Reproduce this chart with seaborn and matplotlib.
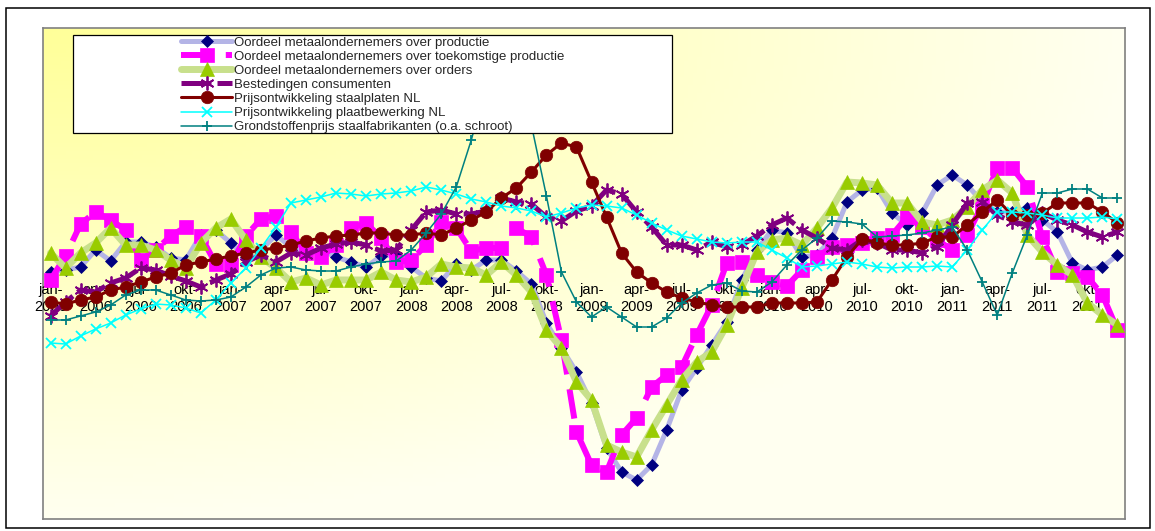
import numpy as np
import pandas as pd
import matplotlib
matplotlib.use("Agg")
import matplotlib.pyplot as plt
from matplotlib.patches import Rectangle
import seaborn as sns

sns.set_theme(style="white")
plt.rcParams['font.family'] = ['Liberation Sans', 'DejaVu Sans']

# ---------------- data (72 months, jan-2006 .. dec-2011) ----------------
tick_labels = [
    "jan-\n2006", "apr-\n2006", "jul-\n2006", "okt-\n2006",
    "jan-\n2007", "apr-\n2007", "jul-\n2007", "okt-\n2007",
    "jan-\n2008", "apr-\n2008", "jul-\n2008", "okt-\n2008",
    "jan-\n2009", "apr-\n2009", "jul-\n2009", "okt-\n2009",
    "jan-\n2010", "apr-\n2010", "jul-\n2010", "okt-\n2010",
    "jan-\n2011", "apr-\n2011", "jul-\n2011", "okt-\n2011",
]

labels = [
    "Oordeel metaalondernemers over productie",
    "Oordeel metaalondernemers over toekomstige productie",
    "Oordeel metaalondernemers over orders",
    "Bestedingen consumenten",
    "Prijsontwikkeling staalplaten NL",
    "Prijsontwikkeling plaatbewerking NL",
    "Grondstoffenprijs staalfabrikanten (o.a. schroot)",
]

productie = [11, 13, 16, 33, 22, 41, 41, 36, 25, 23, 48, 53,
             40, 26, 33, 48, 36, 28, 33, 26, 21, 16, 27, 28,
             16, 5, 2, 19, 13, 23, 23, 12, -1, -40, -65, -89,
             -120, -165, -189, -197, -182, -147, -107, -85, -62, -39, 3, 33,
             53, 50, 26, 28, 45, 81, 93, 95, 70, 58, 70, 98,
             108, 98, 81, 71, 71, 75, 63, 51, 20, 13, 16, 28]

toekomstige_productie = [3, 27, 59, 71, 63, 53, 23, 33, 47, 56, 47, 19,
                         18, 47, 64, 67, 51, 30, 26, 38, 55, 60, 45, 21,
                         23, 38, 61, 55, 32, 35, 35, 55, 46, 8, -57, -149,
                         -182, -189, -152, -135, -104, -92, -84, -52, -22, 20, 21, 8,
                         1, -3, 13, 26, 36, 38, 40, 45, 48, 66, 56, 43,
                         33, 48, 78, 115, 115, 96, 46, 11, 10, 6, -12, -47]

orders = [30, 15, 30, 40, 55, 38, 38, 33, 23, 15, 40, 55,
          64, 43, 26, 15, 1, 5, -2, 3, 3, 3, 11, 3,
          1, 6, 19, 16, 15, 8, 21, 8, -9, -47, -65, -99,
          -117, -162, -169, -174, -147, -122, -97, -79, -69, -42, -5, 31,
          43, 45, 38, 55, 75, 101, 100, 98, 80, 80, 61, 58,
          63, 76, 93, 103, 90, 48, 31, 18, 8, -20, -32, -42]

bestedingen = [-33, -19, -7, -9, 0, 5, 15, 13, 7, 2, -4, 3,
               9, 21, 28, 21, 30, 28, 35, 39, 41, 38, 32, 33,
               53, 71, 73, 69, 69, 72, 85, 81, 79, 66, 62, 72,
               77, 93, 89, 71, 56, 38, 38, 33, 41, 36, 38, 47,
               58, 65, 53, 45, 35, 33, 43, 40, 33, 33, 30, 36,
               58, 80, 81, 68, 61, 58, 70, 63, 58, 51, 46, 51]

staalplaten = [-19, -21, -17, -14, -7, -4, 1, 6, 10, 18, 21, 24,
               27, 30, 33, 35, 38, 42, 45, 47, 48, 50, 50, 48,
               48, 50, 48, 55, 63, 71, 85, 95, 111, 128, 140, 136,
               101, 66, 30, 11, 0, -9, -15, -19, -22, -24, -24, -24,
               -20, -20, -20, -19, 3, 26, 44, 40, 38, 38, 40, 46,
               46, 58, 71, 83, 68, 68, 70, 80, 80, 80, 71, 60]

plaatbewerking = [-60, -61, -53, -46, -40, -32, -26, -21, -22, -25, -30, -17,
                  0, 15, 35, 56, 80, 83, 86, 90, 89, 87, 89, 90,
                  92, 96, 93, 89, 84, 81, 77, 75, 72, 66, 70, 75,
                  78, 77, 75, 68, 60, 53, 47, 44, 41, 40, 41, 41,
                  33, 25, 16, 17, 19, 21, 19, 16, 15, 16, 16, 17,
                  16, 33, 53, 71, 71, 70, 68, 65, 65, 65, 66, 64]

grondstoffen = [-37, -37, -33, -29, -22, -12, -7, -7, -12, -17, -18, -17,
                -14, -4, 8, 15, 16, 13, 12, 12, 16, 19, 21, 22,
                33, 50, 69, 96, 143, 198, 228, 208, 158, 87, 11, -19,
                -34, -24, -34, -44, -44, -35, -20, -10, -2, 0, -8, -9,
                1, 18, 33, 45, 62, 61, 59, 46, 47, 48, 50, 53,
                56, 33, 1, -32, 10, 48, 90, 90, 94, 94, 85, 85]

maand = np.arange(len(productie))
df = pd.DataFrame({
    "maand": maand,
    labels[0]: productie,
    labels[1]: toekomstige_productie,
    labels[2]: orders,
    labels[3]: bestedingen,
    labels[4]: staalplaten,
    labels[5]: plaatbewerking,
    labels[6]: grondstoffen,
})

# ---------------- styles ----------------
styles = [
    dict(color="#B4B4E6", lw=3.6, marker="D", ms=6.6, mfc="#000080", mec="#000080", mew=0.5),
    dict(color="#FF00FF", lw=4.3, marker="s", ms=10, mfc="#FF00FF", mec="#FF00FF", mew=0.5,
         linestyle=(0, (5, 2.5))),
    dict(color="#C8E08C", lw=5.0, marker="^", ms=10, mfc="#99CC00", mec="#99CC00", mew=0.5),
    dict(color="#800080", lw=3.6, marker=(6, 2, 0), ms=10, mfc="#800080", mec="#800080", mew=1.3,
         linestyle=(0, (6, 1.2))),
    dict(color="#800000", lw=2.2, marker="o", ms=9, mfc="#800000", mec="#800000", mew=0.5),
    dict(color="#00FFFF", lw=1.1, marker="x", ms=6.5, mfc="#00FFFF", mec="#00FFFF", mew=1.3),
    dict(color="#008080", lw=1.1, marker="+", ms=7.5, mfc="#008080", mec="#008080", mew=1.3),
]

# ---------------- figure layout ----------------
W, H = 1155, 531
fig = plt.figure(figsize=(W / 100, H / 100), dpi=100)
fig.patch.set_facecolor("white")

L, R, T, B = 43, 1125, 28, 519
rect = [L / W, 1 - B / H, (R - L) / W, (B - T) / H]

# gradient background of plot area
bg = fig.add_axes(rect, zorder=0)
ny, nx = 120, 240
X, Y = np.meshgrid(np.linspace(0, 1, nx), np.linspace(0, 1, ny))
d = np.clip(np.sqrt(X ** 2 + Y ** 2), 0, 1)
img = np.ones((ny, nx, 3))
img[..., 2] = (153 + 87 * d) / 255
bg.imshow(img, extent=[0, 1, 0, 1], origin="upper", aspect="auto")
bg.set_xticks([])
bg.set_yticks([])
for s in bg.spines.values():
    s.set_visible(True)
    s.set_color("#808080")
    s.set_linewidth(1.2)

ax = fig.add_axes(rect, zorder=1)
ax.patch.set_alpha(0)

for lab, st in zip(labels, styles):
    sns.lineplot(data=df, x="maand", y=lab, ax=ax, label=lab, legend=False,
                 sort=False, **st)

ax.set_xlim(-0.5, 71.5)
ax.set_ylim(-236, 255)
ax.grid(False)
for side in ["top", "right", "left"]:
    ax.spines[side].set_visible(False)
ax.spines["bottom"].set_position(("data", 0))
ax.spines["bottom"].set_color("none")
ax.set_yticks([])
ax.set_xticks(np.arange(0, 72, 3))
ax.set_xticklabels(tick_labels, fontsize=10.5, color="black", linespacing=1.3)
ax.tick_params(axis="x", length=0, pad=0)
ax.set_xlabel("")
ax.set_ylabel("")

# legend box
fig.patches.append(Rectangle((73 / W, 1 - 133 / H), 599 / W, 98 / H,
                             transform=fig.transFigure, facecolor="white",
                             edgecolor="black", lw=0.9, zorder=3))
handles, hl = ax.get_legend_handles_labels()
leg = fig.legend(handles, hl, loc="upper left", bbox_to_anchor=(181 / W, 1 - 36.5 / H),
                 frameon=False, fontsize=9.5, handlelength=3.9, handletextpad=0.15,
                 labelspacing=0.14, borderpad=0, borderaxespad=0, numpoints=1)
leg.set_zorder(4)

# outer chart border
fig.patches.append(Rectangle((6 / W, 1 - 528 / H), 1144 / W, 520 / H,
                             transform=fig.transFigure, fill=False,
                             edgecolor="black", lw=1.1, zorder=2))

fig.savefig("out.png", dpi=100)
